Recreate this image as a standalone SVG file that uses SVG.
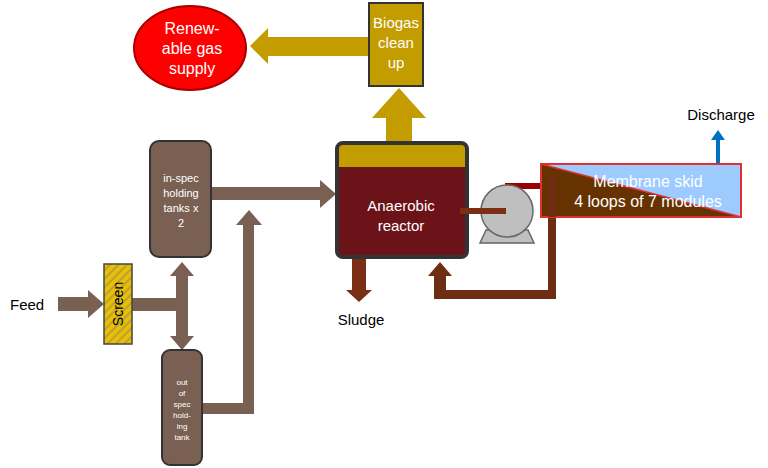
<svg xmlns="http://www.w3.org/2000/svg" width="768" height="468" viewBox="0 0 768 468">
<defs>
<pattern id="hatch" width="6" height="6" patternUnits="userSpaceOnUse" patternTransform="rotate(45)">
<rect width="6" height="6" fill="#E8C000"/><rect width="2" height="6" fill="#B8A040"/>
</pattern>
</defs>
<style>
.t{font-family:"Liberation Sans",Arial,sans-serif}
.w{fill:#fff}
.tank{fill:#7A6052;stroke:#333;stroke-width:2}
.pipe{fill:#7A6052}
</style>
<rect width="768" height="468" fill="#fff"/>
<g id="connectors">
<polygon fill="#C39C00" points="370,37 268,37 268,28 250,46 268,64 268,56 370,56"/>
<polygon fill="#C39C00" points="386,142 386,118 372,118 399,88 426,118 412,118 412,142"/>
<polygon class="pipe" points="58,297 88,297 88,290 104,304 88,318 88,311 58,311"/>
<polygon class="pipe" points="132,298 176,298 176,276 170,276 182,262 194,276 188,276 188,336 194,336 182,350 170,336 176,336 176,311 132,311"/>
<polygon class="pipe" points="211,187 320,187 320,180 336,194 320,208 320,200 211,200"/>
<polygon class="pipe" points="202,403 243,403 243,225 236,225 249,210 262,225 254,225 254,414 202,414"/>
<polygon fill="#7A2E14" points="352,258 366,258 366,290 372,290 359,302 346,290 352,290"/>
<rect x="505" y="183" width="37" height="6" fill="#9B0000"/>
<polygon fill="#6E2E14" points="548,175 556,175 556,299 434,299 434,276 428,276 440,262 452,276 446,276 446,290 548,290"/>
<polygon fill="#0070C0" points="716,164 720,164 720,140 725,140 718,130 711,140 716,140"/>
</g>
<g id="renewable">
<ellipse cx="190" cy="48" rx="56" ry="42" fill="#F00" stroke="#A00" stroke-width="2"/>
<text class="t w" font-size="16" text-anchor="middle"><tspan x="192" y="34">Renew-</tspan><tspan x="192" y="54">able gas</tspan><tspan x="192" y="74">supply</tspan></text>
</g>
<g id="biogas">
<rect x="369" y="3" width="54" height="83" fill="#C39C00" stroke="#333" stroke-width="2"/>
<text class="t w" font-size="15" text-anchor="middle"><tspan x="396" y="28">Biogas</tspan><tspan x="396" y="48">clean</tspan><tspan x="396" y="68">up</tspan></text>
</g>
<g id="reactor">
<rect x="337" y="143" width="130" height="114" rx="6" fill="#6B1318" stroke="#333" stroke-width="4"/>
<path d="M339,167 V149 a4,4 0 0 1 4,-4 H461 a4,4 0 0 1 4,4 V167 Z" fill="#C39C00"/>
<text class="t w" font-size="15" text-anchor="middle"><tspan x="401" y="211">Anaerobic</tspan><tspan x="401" y="231">reactor</tspan></text>
</g>
<g id="inspec">
<rect class="tank" x="150" y="141" width="61" height="116" rx="9"/>
<text class="t w" font-size="11" text-anchor="middle"><tspan x="181" y="182">in-spec</tspan><tspan x="181" y="197">holding</tspan><tspan x="181" y="212">tanks x</tspan><tspan x="181" y="227">2</tspan></text>
</g>
<g id="outspec">
<rect class="tank" x="162" y="350" width="40" height="115" rx="8"/>
<text class="t w" font-size="8" text-anchor="middle"><tspan x="182" y="385">out</tspan><tspan x="182" y="396">of</tspan><tspan x="182" y="407">spec</tspan><tspan x="182" y="418">hold-</tspan><tspan x="182" y="429">ing</tspan><tspan x="182" y="440">tank</tspan></text>
</g>
<g id="screen">
<rect x="104" y="264" width="28" height="80" fill="url(#hatch)" stroke="#444" stroke-width="1.5"/>
<text class="t" font-size="14" text-anchor="middle" transform="translate(123,304) rotate(-90)">Screen</text>
</g>
<g id="pump">
<path d="M486,230 L480,243 H534 L528,230 Z" fill="#BFBFBF" stroke="#666" stroke-width="1.5"/>
<circle cx="507" cy="211" r="26" fill="#BFBFBF" stroke="#666" stroke-width="1.5"/>
<rect x="460" y="208" width="46" height="6" fill="#7A2E14"/>
</g>
<g id="skid">
<polygon points="541,164 741,164 741,217" fill="#9DCBFF"/>
<polygon points="541,164 741,217 541,217" fill="#663300"/>
<line x1="541" y1="164" x2="741" y2="217" stroke="#E03030" stroke-width="1.5"/>
<rect x="541" y="164" width="200" height="53" fill="none" stroke="#E03030" stroke-width="2"/>
<rect x="548" y="175" width="8" height="42" fill="#6E2E14"/>
<text class="t w" font-size="16" text-anchor="middle"><tspan x="648" y="187">Membrane skid</tspan><tspan x="648" y="207">4 loops of 7 modules</tspan></text>
</g>
<g id="labels">
<text class="t" font-size="15" x="10" y="310">Feed</text>
<text class="t" font-size="15" x="361" y="325" text-anchor="middle">Sludge</text>
<text class="t" font-size="15" x="721" y="120" text-anchor="middle">Discharge</text>
</g>
</svg>
